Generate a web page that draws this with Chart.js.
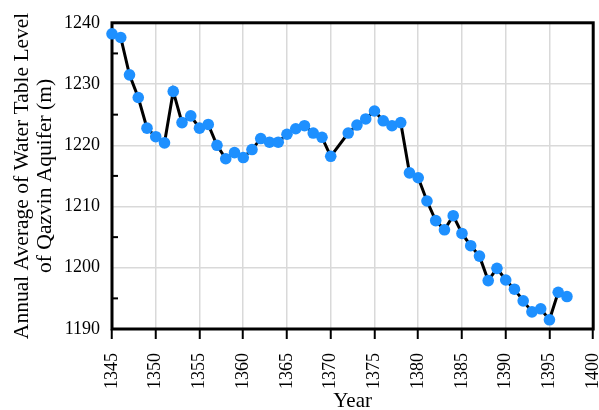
<!DOCTYPE html>
<html>
<head>
<meta charset="utf-8">
<script src="https://cdn.jsdelivr.net/npm/chart.js@4/dist/chart.umd.min.js"></script>
<style>
html,body{margin:0;padding:0;background:#fff;}
#wrap{width:599px;height:410px;}
</style>
</head>
<body>
<div id="wrap"><canvas id="c" width="599" height="410"></canvas></div>
<script>
const years = [1345,1346,1347,1348,1349,1350,1351,1352,1353,1354,1355,1356,1357,1358,1359,1360,1361,1362,1363,1364,1365,1366,1367,1368,1369,1370,
  1372,1373,1374,1375,1376,1377,1378,1379,1380,1381,1382,1383,1384,1385,1386,1387,1388,1389,1390,1391,1392,1393,1394,1395,1396,1397];
const levels = [1238.2,1237.6,1231.5,1227.8,1222.8,1221.4,1220.4,1228.8,1223.7,1224.8,1222.8,1223.4,1220.0,1217.8,1218.8,1218.0,1219.3,1221.1,1220.5,1220.5,1221.8,1222.7,1223.2,1222.0,1221.3,1218.2,
  1222.0,1223.3,1224.3,1225.6,1224.0,1223.2,1223.7,1215.5,1214.7,1210.9,1207.7,1206.2,1208.5,1205.6,1203.6,1201.9,1197.9,1199.9,1198.0,1196.5,1194.6,1192.8,1193.3,1191.5,1196.0,1195.3];
const xTitle = 'Year';
const yTitle = ['Annual Average of Water Table Level', 'of Qazvin Aquifer (m)'];
const yMinorTicks = [1195,1205,1215,1225,1235];

const points = years.map((y, i) => ({x: y, y: levels[i]}));
const serif = '"Liberation Serif", "Times New Roman", serif';

const framePlugin = {
  id: 'frame',
  beforeDatasetsDraw(chart) {
    const {ctx, chartArea: a, scales} = chart;
    ctx.save();
    ctx.strokeStyle = '#000';
    ctx.lineWidth = 2;
    yMinorTicks.forEach(v => {
      const py = scales.y.getPixelForValue(v);
      ctx.beginPath();
      ctx.moveTo(a.left, py);
      ctx.lineTo(a.left + 6, py);
      ctx.stroke();
    });
    ctx.lineWidth = 3;
    ctx.strokeRect(a.left, a.top, a.right - a.left, a.bottom - a.top);
    ctx.restore();
  }
};

new Chart(document.getElementById('c'), {
  type: 'scatter',
  data: {
    datasets: [{
      data: points,
      showLine: true,
      borderColor: '#000',
      borderWidth: 3,
      pointBackgroundColor: '#1E90FF',
      pointBorderColor: '#1E90FF',
      pointBorderWidth: 0,
      pointRadius: 5.8,
      clip: false
    }]
  },
  options: {
    responsive: false,
    animation: false,
    layout: {padding: {left: 10, top: 22, right: 4, bottom: 0}},
    plugins: {legend: {display: false}, tooltip: {enabled: false}},
    scales: {
      x: {
        type: 'linear',
        min: 1345, max: 1400,
        afterFit(scale) { scale.paddingRight = 0; scale.paddingLeft = 0; scale.height = 81; },
        ticks: {stepSize: 5, minRotation: 90, maxRotation: 90, color: '#000',
          font: {family: serif, size: 18}, padding: 14, callback: v => String(v)},
        grid: {color: '#d9d9d9', lineWidth: 1.5, tickColor: '#000', tickWidth: 2, tickLength: 10},
        border: {display: false},
        title: {display: true, text: xTitle, color: '#000', font: {family: serif, size: 21, lineHeight: 1.0}, padding: {top: 4, bottom: -2}}
      },
      y: {
        min: 1190, max: 1240,
        afterFit(scale) { scale.width = 102; },
        ticks: {stepSize: 10, color: '#000', font: {family: serif, size: 18}, padding: 12, callback: v => String(v)},
        grid: {color: '#d9d9d9', lineWidth: 1.5, drawTicks: false},
        border: {display: false},
        title: {display: true, text: yTitle, color: '#000', font: {family: serif, size: 21.5, lineHeight: 1.07}, padding: {top: 0.5, bottom: 4}}
      }
    }
  },
  plugins: [framePlugin]
});
</script>
</body>
</html>
